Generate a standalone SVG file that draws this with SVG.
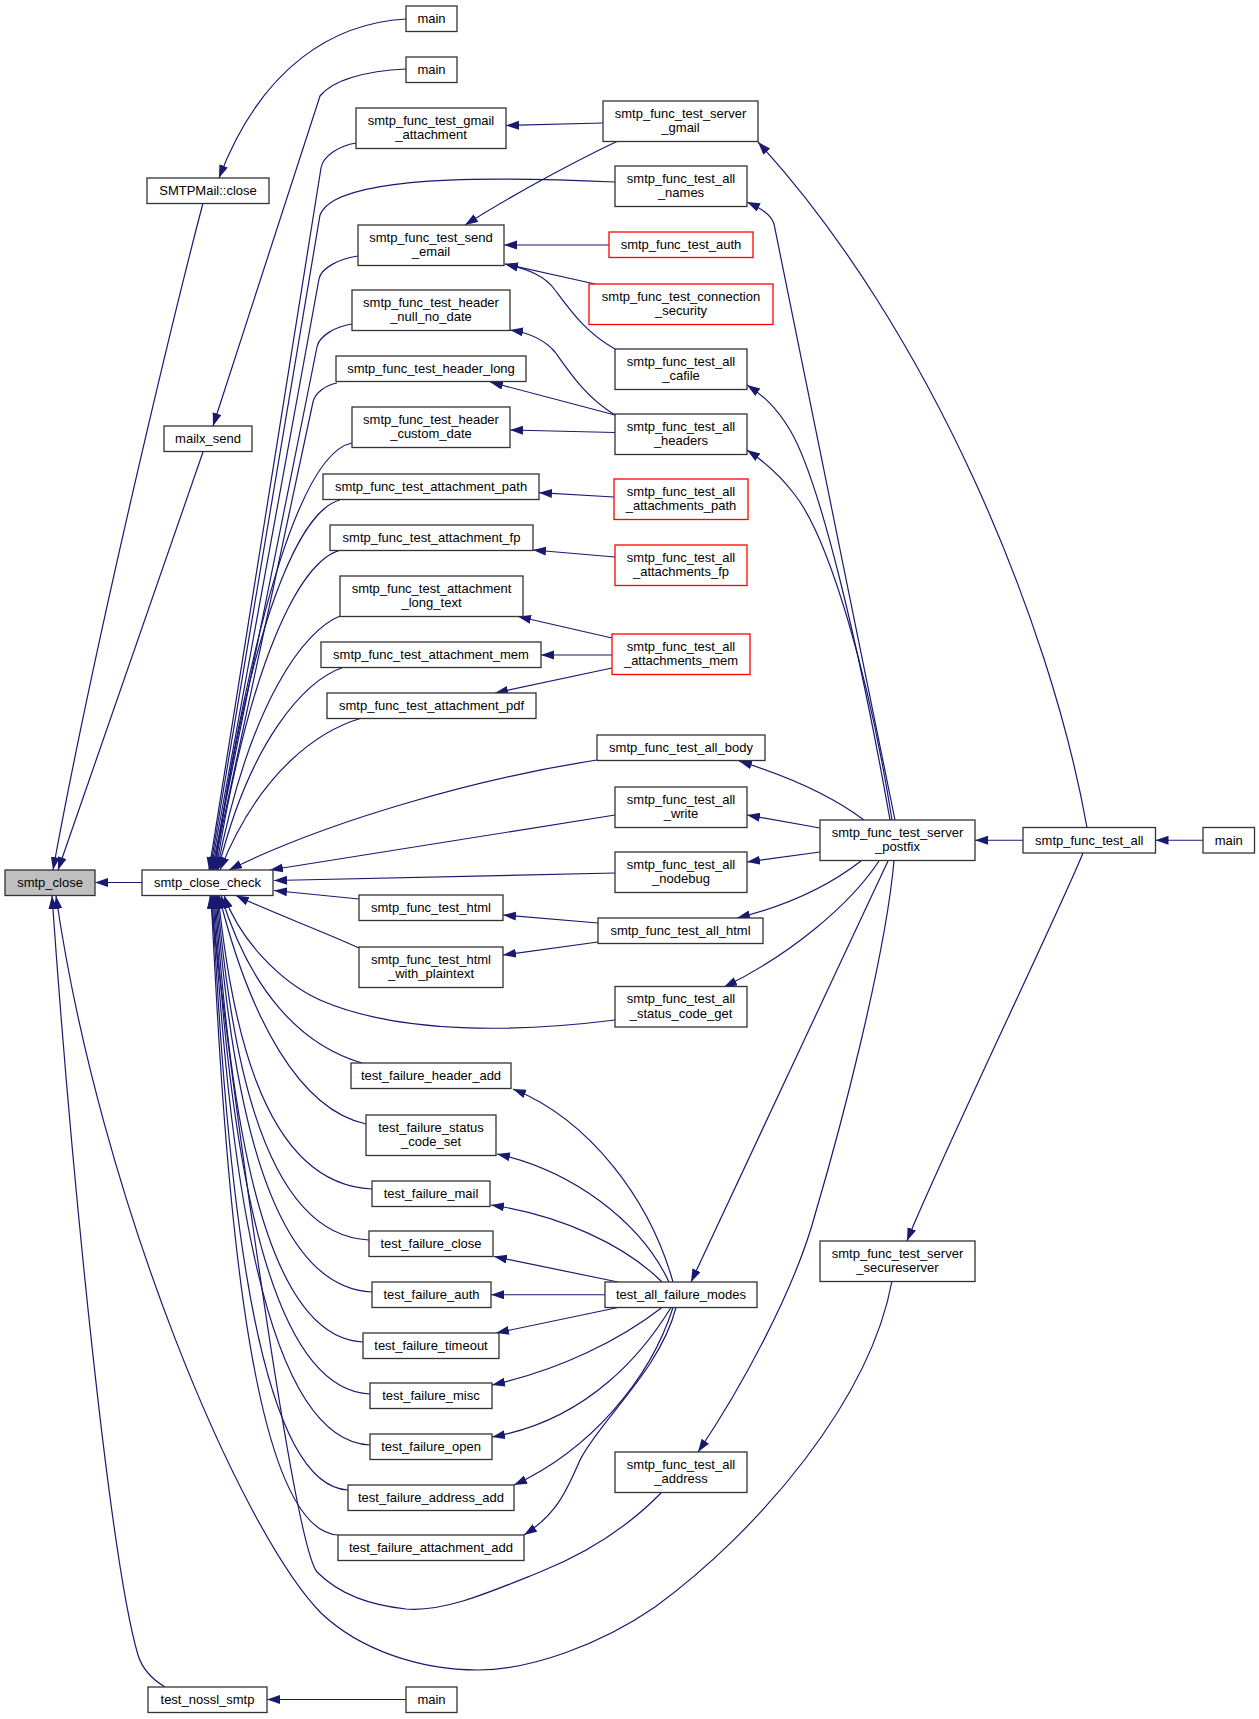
<svg xmlns="http://www.w3.org/2000/svg" width="1259" height="1719" viewBox="0 0 1259 1719">
<style>
.n rect{fill:#fff;stroke:#333;stroke-width:1.3}
.n.r rect{stroke:#ff0000}
.n.g rect{fill:#bfbfbf}
text{font-family:"Liberation Sans",Arial,sans-serif;font-size:13px;text-anchor:middle;fill:#000}
#edges path{fill:none;stroke:#191970;stroke-width:1.2;marker-end:url(#ah)}
</style>
<defs>
<marker id="ah" markerUnits="userSpaceOnUse" markerWidth="14" markerHeight="10" refX="13" refY="4.5" orient="auto"><path d="M0,0 L13,4.5 L0,9 z" fill="#191970"/></marker>
</defs>
<rect width="1259" height="1719" fill="#fff"/>
<g id="edges">
<path d="M406,19 C335,23 262,65 219,178"/>
<path d="M406,69 C365,71 333,80 320,96 L213,426"/>
<path d="M203,203 C175,310 95,640 53,870"/>
<path d="M203,452 L58,870"/>
<path d="M142,882.5 L95,882.5"/>
<path d="M165,1687 C150,1678 142,1668 138,1655 C110,1560 72,1180 52,896"/>
<path d="M892,1281 C870,1400 760,1530 655,1607 C600,1645 530,1670 478,1670 C420,1670 360,1650 321,1613 C240,1530 100,1200 56,896"/>
<path d="M406,1699.5 L267,1699.5"/>
<path d="M662,1492 C630,1525 590,1552 540,1572 C490,1592 445,1612 406,1609 C370,1605 340,1595 317,1572 C295,1545 240,1150 210,895.5"/>
<path d="M356,143 C340,145.5 323,155.6 321,168 L209,870"/>
<path d="M615,182 C500,177 380,176 335,200 C326,205 322,210 320,215 L210,870"/>
<path d="M358,256 C340.5,258.3 321,267.7 319,279 L211,870"/>
<path d="M352,324 C336,326.3 319.2,335.7 317,347 L212,870"/>
<path d="M337,383 C326,385 315,392.7 313,402 L213,870"/>
<path d="M352,443 C305,452 255,600 214,870"/>
<path d="M340,500 C300,510 250,620 215,870"/>
<path d="M341,550 C300,560 250,660 216,870"/>
<path d="M340,616 C305,630 250,700 217,870"/>
<path d="M344,667 C305,680 250,740 218,870"/>
<path d="M362,718 C320,730 260,770 220,870"/>
<path d="M597,760 C480,778 330,820 229,870"/>
<path d="M615,815 L270,870"/>
<path d="M615,873 L274,880.5"/>
<path d="M359,899 L274,890.5"/>
<path d="M359,948 C320,930 270,912 236,895.5"/>
<path d="M615,1020 C520,1032 400,1035 320,1000 C280,982 240,940 224,895.5"/>
<path d="M362,1063 C300,1045 250,990 221,895.5"/>
<path d="M366,1124 C300,1110 250,1020 219,895.5"/>
<path d="M372,1189 C256.5,1184 230,1004 218,895.5"/>
<path d="M369,1240 C255,1235 229,1023 217,895.5"/>
<path d="M372,1292 C255,1287 228,1042 216,895.5"/>
<path d="M363,1342 C252,1337 227,1060.7 215,895.5"/>
<path d="M370,1394 C253,1389 226,1080 214,895.5"/>
<path d="M370,1445 C252,1440 225,1099 213,895.5"/>
<path d="M348,1490 C246,1485 224,1115.5 212,895.5"/>
<path d="M338,1535 C243,1530 223,1132 211,895.5"/>
<path d="M603,123 L506,125.5"/>
<path d="M617,141.5 C590,154 520,190 465,225"/>
<path d="M609,245 L504,245"/>
<path d="M595,284 L505,264"/>
<path d="M615,349 C585,332 570,310 555,290 C545,276 530,270 505,264"/>
<path d="M615,415 C585,397 568,370 555,352 C545,340 530,333 510,330"/>
<path d="M615,415 L490,382"/>
<path d="M615,432.5 L510,430"/>
<path d="M614,497 L539,492.7"/>
<path d="M615,557 L533,550"/>
<path d="M612,638 L518,616.5"/>
<path d="M612,655 L541,655"/>
<path d="M612,668 L495,693"/>
<path d="M598,923 L503,915"/>
<path d="M598,942 L503,955"/>
<path d="M895,820 C860,650 790,300 774,224 C771,214 760,208 747,202"/>
<path d="M890,820 C860,650 820,480 790,430 C775,405 762,395 747,385"/>
<path d="M892,820 C870,680 830,540 795,495 C780,475 765,462 747,450"/>
<path d="M864,820 C840,802 800,780 739,761"/>
<path d="M820,828 L747,815"/>
<path d="M820,852 L747,862"/>
<path d="M861,861 C830,885 790,905 737,918"/>
<path d="M879,861 C850,905 790,955 724,987"/>
<path d="M888,861 L691,1282"/>
<path d="M894,861 C885,960 840,1130 815.5,1213 C795,1290 740,1390 698,1452"/>
<path d="M1023,840.25 L975,840.25"/>
<path d="M1203,840.25 L1155.5,840.25"/>
<path d="M1083,853 C1060,910 935,1170 907,1241"/>
<path d="M1087,827.5 C1050,620 930,330 758,142"/>
<path d="M673,1282 C650,1200 590,1120 513,1089"/>
<path d="M669,1282 C640,1220 570,1170 497,1154"/>
<path d="M662,1282 C625,1245 560,1215 491,1205"/>
<path d="M618,1282 L494,1256.5"/>
<path d="M605,1294.75 L491,1294.75"/>
<path d="M618,1307.5 L496,1333"/>
<path d="M662,1307.5 C620,1340 560,1370 492,1385"/>
<path d="M671,1307.5 C645,1350 590,1420 492,1437"/>
<path d="M673,1307.5 C650,1380 590,1450 514,1485"/>
<path d="M676,1307.5 C660,1370 600,1420 580,1460 C565,1495 555,1515 524,1535"/>
</g>
<g id="n_smtp_close" class="n g"><rect x="5" y="870" width="90" height="25.5"/><text x="50" y="887">smtp_close</text></g>
<g id="n_close_check" class="n"><rect x="142" y="870" width="131" height="25.5"/><text x="207.5" y="887">smtp_close_check</text></g>
<g id="n_smtpmail_close" class="n"><rect x="147" y="178" width="122" height="25.5"/><text x="208" y="195">SMTPMail::close</text></g>
<g id="n_mailx_send" class="n"><rect x="164" y="426" width="88" height="25.5"/><text x="208" y="443">mailx_send</text></g>
<g id="n_test_nossl" class="n"><rect x="148" y="1687" width="119" height="25.5"/><text x="207.5" y="1704">test_nossl_smtp</text></g>
<g id="n_main1" class="n"><rect x="406" y="6" width="51" height="25.5"/><text x="431.5" y="23">main</text></g>
<g id="n_main2" class="n"><rect x="406" y="57" width="51" height="25.5"/><text x="431.5" y="74">main</text></g>
<g id="n_main3" class="n"><rect x="406" y="1687" width="51" height="25.5"/><text x="431.5" y="1704">main</text></g>
<g id="n_gmail_att" class="n"><rect x="356" y="108" width="150" height="40.5"/><text x="431" y="124.5">smtp_func_test_gmail</text><text x="431" y="139">_attachment</text></g>
<g id="n_send_email" class="n"><rect x="358" y="225" width="146" height="40.5"/><text x="431" y="241.5">smtp_func_test_send</text><text x="431" y="256">_email</text></g>
<g id="n_hdr_null" class="n"><rect x="352" y="290" width="158" height="40.5"/><text x="431" y="306.5">smtp_func_test_header</text><text x="431" y="321">_null_no_date</text></g>
<g id="n_hdr_long" class="n"><rect x="336" y="356" width="190" height="25.5"/><text x="431" y="373">smtp_func_test_header_long</text></g>
<g id="n_hdr_custom" class="n"><rect x="352" y="407" width="158" height="40.5"/><text x="431" y="423.5">smtp_func_test_header</text><text x="431" y="438">_custom_date</text></g>
<g id="n_att_path" class="n"><rect x="323" y="474" width="216" height="25.5"/><text x="431" y="491">smtp_func_test_attachment_path</text></g>
<g id="n_att_fp" class="n"><rect x="330" y="525" width="203" height="25.5"/><text x="431.5" y="542">smtp_func_test_attachment_fp</text></g>
<g id="n_att_long" class="n"><rect x="340" y="576" width="183" height="40.5"/><text x="431.5" y="592.5">smtp_func_test_attachment</text><text x="431.5" y="607">_long_text</text></g>
<g id="n_att_mem" class="n"><rect x="321" y="642" width="220" height="25.5"/><text x="431" y="659">smtp_func_test_attachment_mem</text></g>
<g id="n_att_pdf" class="n"><rect x="327" y="693" width="209" height="25.5"/><text x="431.5" y="710">smtp_func_test_attachment_pdf</text></g>
<g id="n_html" class="n"><rect x="359" y="895" width="144" height="25.5"/><text x="431" y="912">smtp_func_test_html</text></g>
<g id="n_html_plain" class="n"><rect x="359" y="947" width="144" height="40.5"/><text x="431" y="963.5">smtp_func_test_html</text><text x="431" y="978">_with_plaintext</text></g>
<g id="n_hdr_add" class="n"><rect x="351" y="1063" width="160" height="25.5"/><text x="431" y="1080">test_failure_header_add</text></g>
<g id="n_status_set" class="n"><rect x="366" y="1115" width="130" height="40.5"/><text x="431" y="1131.5">test_failure_status</text><text x="431" y="1146">_code_set</text></g>
<g id="n_f_mail" class="n"><rect x="372" y="1181" width="118" height="25.5"/><text x="431" y="1198">test_failure_mail</text></g>
<g id="n_f_close" class="n"><rect x="369" y="1231" width="124" height="25.5"/><text x="431" y="1248">test_failure_close</text></g>
<g id="n_f_auth" class="n"><rect x="372" y="1282" width="119" height="25.5"/><text x="431.5" y="1299">test_failure_auth</text></g>
<g id="n_f_timeout" class="n"><rect x="363" y="1333" width="136" height="25.5"/><text x="431" y="1350">test_failure_timeout</text></g>
<g id="n_f_misc" class="n"><rect x="370" y="1383" width="122" height="25.5"/><text x="431" y="1400">test_failure_misc</text></g>
<g id="n_f_open" class="n"><rect x="370" y="1434" width="122" height="25.5"/><text x="431" y="1451">test_failure_open</text></g>
<g id="n_f_addr" class="n"><rect x="348" y="1485" width="166" height="25.5"/><text x="431" y="1502">test_failure_address_add</text></g>
<g id="n_f_att" class="n"><rect x="338" y="1535" width="186" height="25.5"/><text x="431" y="1552">test_failure_attachment_add</text></g>
<g id="n_srv_gmail" class="n"><rect x="603" y="101" width="155" height="40.5"/><text x="680.5" y="117.5">smtp_func_test_server</text><text x="680.5" y="132">_gmail</text></g>
<g id="n_all_names" class="n"><rect x="615" y="166" width="132" height="40.5"/><text x="681" y="182.5">smtp_func_test_all</text><text x="681" y="197">_names</text></g>
<g id="n_auth" class="n r"><rect x="609" y="232" width="144" height="25.5"/><text x="681" y="249">smtp_func_test_auth</text></g>
<g id="n_conn_sec" class="n r"><rect x="589" y="284" width="184" height="40.5"/><text x="681" y="300.5">smtp_func_test_connection</text><text x="681" y="315">_security</text></g>
<g id="n_all_cafile" class="n"><rect x="615" y="349" width="132" height="40.5"/><text x="681" y="365.5">smtp_func_test_all</text><text x="681" y="380">_cafile</text></g>
<g id="n_all_headers" class="n"><rect x="615" y="414" width="132" height="40.5"/><text x="681" y="430.5">smtp_func_test_all</text><text x="681" y="445">_headers</text></g>
<g id="n_all_att_path" class="n r"><rect x="614" y="479" width="134" height="40.5"/><text x="681" y="495.5">smtp_func_test_all</text><text x="681" y="510">_attachments_path</text></g>
<g id="n_all_att_fp" class="n r"><rect x="615" y="545" width="132" height="40.5"/><text x="681" y="561.5">smtp_func_test_all</text><text x="681" y="576">_attachments_fp</text></g>
<g id="n_all_att_mem" class="n r"><rect x="612" y="634" width="138" height="40.5"/><text x="681" y="650.5">smtp_func_test_all</text><text x="681" y="665">_attachments_mem</text></g>
<g id="n_all_body" class="n"><rect x="597" y="735" width="168" height="25.5"/><text x="681" y="752">smtp_func_test_all_body</text></g>
<g id="n_all_write" class="n"><rect x="615" y="787" width="132" height="40.5"/><text x="681" y="803.5">smtp_func_test_all</text><text x="681" y="818">_write</text></g>
<g id="n_all_nodebug" class="n"><rect x="615" y="852" width="132" height="40.5"/><text x="681" y="868.5">smtp_func_test_all</text><text x="681" y="883">_nodebug</text></g>
<g id="n_all_html" class="n"><rect x="598" y="918" width="165" height="25.5"/><text x="680.5" y="935">smtp_func_test_all_html</text></g>
<g id="n_all_status" class="n"><rect x="615" y="986.5" width="132" height="40.5"/><text x="681" y="1003">smtp_func_test_all</text><text x="681" y="1017.5">_status_code_get</text></g>
<g id="n_fail_modes" class="n"><rect x="605" y="1282" width="152" height="25.5"/><text x="681" y="1299">test_all_failure_modes</text></g>
<g id="n_all_address" class="n"><rect x="615" y="1452" width="132" height="40.5"/><text x="681" y="1468.5">smtp_func_test_all</text><text x="681" y="1483">_address</text></g>
<g id="n_srv_postfix" class="n"><rect x="820" y="820" width="155" height="40.5"/><text x="897.5" y="836.5">smtp_func_test_server</text><text x="897.5" y="851">_postfix</text></g>
<g id="n_srv_secure" class="n"><rect x="820" y="1241" width="155" height="40.5"/><text x="897.5" y="1257.5">smtp_func_test_server</text><text x="897.5" y="1272">_secureserver</text></g>
<g id="n_test_all" class="n"><rect x="1023" y="827.5" width="132.5" height="25.5"/><text x="1089.25" y="844.5">smtp_func_test_all</text></g>
<g id="n_main4" class="n"><rect x="1203" y="827.5" width="51.5" height="25.5"/><text x="1228.75" y="844.5">main</text></g>
</svg>
